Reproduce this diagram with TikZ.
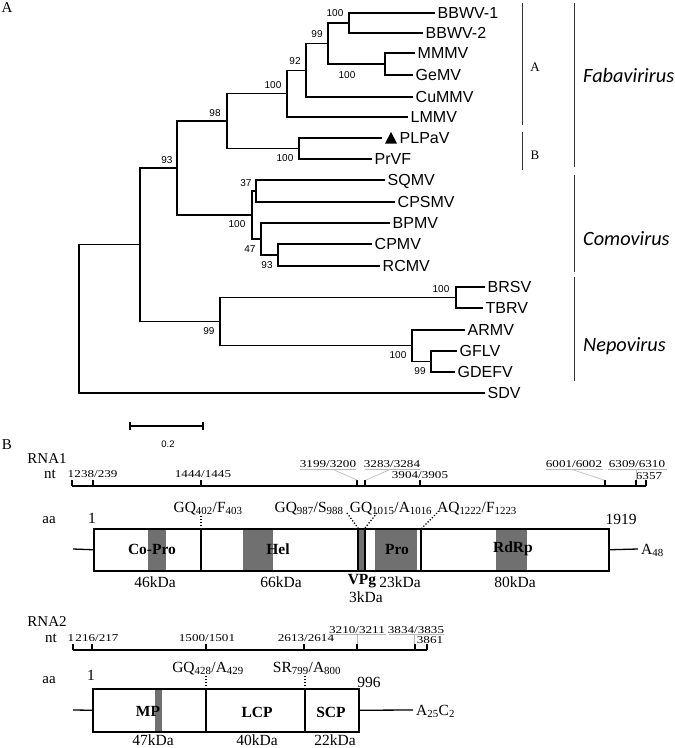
\documentclass[tikz,border=0pt]{standalone}
\usepackage{fontspec}
\setmainfont{Liberation Serif}
\setsansfont{Liberation Sans}
\newfontfamily\calfont{Carlito}
\newfontfamily\ntfont[FakeStretch=1.25]{Liberation Serif}
\definecolor{bandgray}{RGB}{112,112,112}
\definecolor{leadgray}{RGB}{185,185,185}
\tikzset{
  br/.style={line width=1.3pt, line join=miter},
  leaf/.style={font=\sffamily\fontsize{16}{17}\selectfont, anchor=west, inner xsep=2.5pt, inner ysep=0pt, text height=11.5pt, text depth=0pt},
  bs/.style={font=\sffamily\fontsize{10}{10}\selectfont, inner sep=0pt},
  brk/.style={line width=0.9pt, black!80},
  genus/.style={font=\calfont\itshape\fontsize{20.3}{21}\selectfont, anchor=west, inner sep=0pt},
  cladel/.style={font=\fontsize{13}{13}\selectfont, inner sep=0pt},
  panel/.style={font=\fontsize{15}{15}\selectfont, inner sep=0pt},
  tit/.style={font=\fontsize{15}{15}\selectfont, inner sep=0pt},
  ntl/.style={font=\ntfont\fontsize{10.5}{11}\selectfont, inner sep=0pt, anchor=base},
  lab/.style={font=\fontsize{15.5}{16}\selectfont, inner sep=0pt},
  cut/.style={font=\fontsize{15.5}{16}\selectfont, inner sep=0pt, anchor=base},
  dom/.style={font=\bfseries\fontsize{15.5}{16}\selectfont, inner sep=0pt},
  axisl/.style={line width=1.3pt},
  boxl/.style={draw, line width=1.5pt, inner sep=0pt, anchor=north west},
  divl/.style={line width=1.5pt},
  dotline/.style={line width=1.3pt, dash pattern=on 1.2pt off 1.8pt},
  lead/.style={line width=0.6pt, leadgray},
}
\begin{document}
\begin{tikzpicture}[x=1pt,y=-1pt]
\useasboundingbox (0,0) rectangle (675,748);
\fill[white] (0,0) rectangle (675,748);

% ---------------- Panel A ----------------
\node[panel] (pA) at (7,8) {A};

% leaves
\node[leaf] (BBWV1) at (435,13) {BBWV-1};
\node[leaf] (BBWV2) at (423,33) {BBWV-2};
\node[leaf] (MMMV) at (415,53) {MMMV};
\node[leaf] (GeMV) at (413,75) {GeMV};
\node[leaf] (CuMMV) at (413,97) {CuMMV};
\node[leaf] (LMMV) at (408,117) {LMMV};
\coordinate (ePL) at (382,138);
\node[leaf] (PLPaV) at (397,138) {PLPaV};
\node[leaf] (PrVF) at (372,159) {PrVF};
\node[leaf] (SQMV) at (385,180) {SQMV};
\node[leaf] (CPSMV) at (395,202) {CPSMV};
\node[leaf] (BPMV) at (390,223) {BPMV};
\node[leaf] (CPMV) at (372,244) {CPMV};
\node[leaf] (RCMV) at (380,266) {RCMV};
\node[leaf] (BRSV) at (485,287) {BRSV};
\node[leaf] (TBRV) at (483,308) {TBRV};
\node[leaf] (ARMV) at (465,330) {ARMV};
\node[leaf] (GFLV) at (457,351) {GFLV};
\node[leaf] (GDEFV) at (455,372) {GDEFV};
\node[leaf] (SDV) at (485,393) {SDV};
\fill (385,143.5) -- (397,143.5) -- (391,132) -- cycle;

% internal nodes
\coordinate (root) at (79,318.9);
\coordinate (nX) at (140,244.8);
\coordinate (n93) at (177,168);
\coordinate (n98) at (227,121.1);
\coordinate (n100a) at (287,93.6);
\coordinate (n92) at (306,70.25);
\coordinate (n99) at (328,43.5);
\coordinate (nBB) at (349,23);
\coordinate (nMG) at (385,64);
\coordinate (nPL) at (299,148.5);
\coordinate (nCo) at (252,215);
\coordinate (n37) at (256,191);
\coordinate (n47) at (261,239);
\coordinate (n93b) at (278,255);
\coordinate (nNe) at (220,321.6);
\coordinate (nBR) at (456,297.5);
\coordinate (nAR) at (412,345.75);
\coordinate (nGF) at (431,361.5);

% edges
\draw[br] (root) |- (nX);
\draw[br] (root) |- (SDV.west);
\draw[br] (nX) |- (n93);
\draw[br] (nX) |- (nNe);
\draw[br] (n93) |- (n98);
\draw[br] (n93) |- (nCo);
\draw[br] (n98) |- (n100a);
\draw[br] (n98) |- (nPL);
\draw[br] (n100a) |- (n92);
\draw[br] (n100a) |- (LMMV.west);
\draw[br] (n92) |- (n99);
\draw[br] (n92) |- (CuMMV.west);
\draw[br] (n99) |- (nBB);
\draw[br] (n99) |- (nMG);
\draw[br] (nBB) |- (BBWV1.west);
\draw[br] (nBB) |- (BBWV2.west);
\draw[br] (nMG) |- (MMMV.west);
\draw[br] (nMG) |- (GeMV.west);
\draw[br] (nPL) |- (ePL);
\draw[br] (nPL) |- (PrVF.west);
\draw[br] (nCo) |- (n37);
\draw[br] (nCo) |- (n47);
\draw[br] (n37) |- (SQMV.west);
\draw[br] (n37) |- (CPSMV.west);
\draw[br] (n47) |- (BPMV.west);
\draw[br] (n47) |- (n93b);
\draw[br] (n93b) |- (CPMV.west);
\draw[br] (n93b) |- (RCMV.west);
\draw[br] (nNe) |- (nBR);
\draw[br] (nNe) |- (nAR);
\draw[br] (nBR) |- (BRSV.west);
\draw[br] (nBR) |- (TBRV.west);
\draw[br] (nAR) |- (ARMV.west);
\draw[br] (nAR) |- (nGF);
\draw[br] (nGF) |- (GFLV.west);
\draw[br] (nGF) |- (GDEFV.west);

% bootstrap values
\node[bs] (b1) at (335,13) {100};
\node[bs] (b2) at (317,34) {99};
\node[bs] (b3) at (295,61) {92};
\node[bs] (b4) at (273,85) {100};
\node[bs] (b5) at (215,113) {98};
\node[bs] (b6) at (167,160) {93};
\node[bs] (b7) at (347,75) {100};
\node[bs] (b8) at (285,158) {100};
\node[bs] (b9) at (237,224) {100};
\node[bs] (b10) at (246,183) {37};
\node[bs] (b11) at (250,249) {47};
\node[bs] (b12) at (267,265) {93};
\node[bs] (b13) at (209,331) {99};
\node[bs] (b14) at (441,289) {100};
\node[bs] (b15) at (398,355) {100};
\node[bs] (b16) at (420,371) {99};

% brackets
\coordinate (bAt) at (522,3);   \coordinate (bAb) at (522,125);
\coordinate (bBt) at (522,132); \coordinate (bBb) at (522,170);
\coordinate (gFt) at (574,3);   \coordinate (gFb) at (574,167);
\coordinate (gCt) at (574,175); \coordinate (gCb) at (574,272);
\coordinate (gNt) at (574,277); \coordinate (gNb) at (574,381);
\draw[brk] (bAt) -- (bAb);
\draw[brk] (bBt) -- (bBb);
\draw[brk] (gFt) -- (gFb);
\draw[brk] (gCt) -- (gCb);
\draw[brk] (gNt) -- (gNb);
\node[cladel] (cA) at (535,67) {A};
\node[cladel] (cB) at (535,155) {B};
\node[genus] (fab) at (583,76) {Fabavirirus};
\node[genus] (como) at (583,239) {Comovirus};
\node[genus] (nepo) at (583,346) {Nepovirus};

% scale bar
\coordinate (s0) at (130,426); \coordinate (s1) at (203,426);
\draw[br] (s0) -- (s1);
\draw[br] (130,422) -- (130,430);
\draw[br] (203,422) -- (203,430);
\node[bs, font=\sffamily\fontsize{9.5}{10}\selectfont] (sc) at (168,444) {0.2};

% ---------------- Panel B ----------------
\node[panel] (pB) at (7,445) {B};

% RNA1 nt axis
\node[tit] (rna1) at (47,459) {RNA1};
\node[tit] (nt1) at (50,474) {nt};
\coordinate (a1s) at (72,486); \coordinate (a1e) at (646,486);
\draw[axisl] (a1s) -- (a1e);
\foreach \xx in {72,93,201,357,365,420,605,636,646} \draw[axisl] (\xx,486) -- (\xx,480);
\node[ntl] (l1a) at (71,477) {1};
\node[ntl] (l1b) at (96,477) {238/239};
\node[ntl] (l1c) at (203,477.5) {1444/1445};
\node[ntl] (l1d) at (328,467.5) {3199/3200};
\node[ntl] (l1e) at (392,467.5) {3283/3284};
\node[ntl] (l1f) at (420,478) {3904/3905};
\node[ntl] (l1g) at (574,467.5) {6001/6002};
\node[ntl] (l1h) at (637,467.5) {6309/6310};
\node[ntl] (l1i) at (649,479.5) {6357};
\draw[lead] (300,469.5) -- (356,469.5);
\draw[lead] (333,469.5) -- (357,480);
\draw[lead] (365,469.5) -- (420,469.5);
\draw[lead] (390,469.5) -- (366,480);
\draw[lead] (546,469.5) -- (603,469.5);
\draw[lead] (572,469.5) -- (604,480);
\draw[lead] (608,469.5) -- (667,469.5);
\draw[lead] (636,469.5) -- (636,480);

% RNA1 polyprotein
\node[tit] (aa1) at (49,520) {aa};
\node[lab] (one1) at (92,518) {1};
\node[lab] (end1) at (621,519) {1919};
\fill[bandgray] (148,528) rectangle (166,570);
\fill[bandgray] (243,528) rectangle (273,570);
\fill[bandgray] (358,528) rectangle (365,570);
\fill[bandgray] (375,528) rectangle (417,570);
\fill[bandgray] (496,528) rectangle (527,570);
\node[boxl, minimum width=515pt, minimum height=42pt] (box1) at (93,528) {};
\draw[divl] (201,528) -- (201,570);
\draw[divl] (358,528) -- (358,570);
\draw[divl] (365,528) -- (365,570);
\draw[divl] (421,528) -- (421,570);
\coordinate (t1a) at (73,549); \coordinate (t1b) at (638,549);
\draw[axisl] (t1a) -- (box1.west);
\draw[axisl] (box1.east) -- (t1b);
\node[cut, anchor=base west] (pa1) at (641,554) {A\textsubscript{48}};
\node[dom] (copro) at (152,549) {Co-Pro};
\node[dom] (hel) at (278,549) {Hel};
\node[dom] (pro) at (397,549) {Pro};
\node[dom] (rdrp) at (513,549) {RdRp};
\node[lab] (k46) at (155,582) {46kDa};
\node[lab] (k66) at (281,582) {66kDa};
\node[dom] (vpg) at (362,581) {VPg};
\node[lab] (k23) at (400,582) {23kDa};
\node[lab] (k80) at (515,582) {80kDa};
\node[lab] (k3) at (366,597) {3kDa};
\node[cut] (c1) at (208,512) {GQ\textsubscript{402}/F\textsubscript{403}};
\node[cut] (c2) at (309,512) {GQ\textsubscript{987}/S\textsubscript{988}};
\node[cut] (c3) at (391,512) {GQ\textsubscript{1015}/A\textsubscript{1016}};
\node[cut] (c4) at (477,512) {AQ\textsubscript{1222}/F\textsubscript{1223}};
\draw[dotline] (201,516) -- (201,528);
\draw[dotline] (347,513) -- (358,528);
\draw[dotline] (377,513) -- (365,528);
\draw[dotline] (437,513) -- (422,528);

% RNA2 nt axis
\node[tit] (rna2) at (47,622) {RNA2};
\node[tit] (nt2) at (51,638) {nt};
\coordinate (a2s) at (73,650); \coordinate (a2e) at (427,650);
\draw[axisl] (a2s) -- (a2e);
\foreach \xx in {73,92,206,304,357,415,427} \draw[axisl] (\xx,650) -- (\xx,644);
\node[ntl] (l2a) at (71,641.5) {1};
\node[ntl] (l2b) at (97,641.5) {216/217};
\node[ntl] (l2c) at (207,641.5) {1500/1501};
\node[ntl] (l2d) at (306,641.5) {2613/2614};
\node[ntl] (l2e) at (357,633) {3210/3211};
\node[ntl] (l2f) at (416,633) {3834/3835};
\node[ntl] (l2g) at (430,643.5) {3861};
\draw[lead] (329,634.5) -- (386,634.5);
\draw[lead] (357,634.5) -- (357,644);
\draw[lead] (389,634.5) -- (444,634.5);
\draw[lead] (414,634.5) -- (414,644);

% RNA2 polyprotein
\node[tit] (aa2) at (49,680) {aa};
\node[lab] (one2) at (91,675) {1};
\node[lab] (end2) at (369,682) {996};
\fill[bandgray] (155,688) rectangle (162,731);
\node[boxl, minimum width=266pt, minimum height=43pt] (box2) at (92,688) {};
\draw[divl] (206,688) -- (206,731);
\draw[divl, line width=1.9pt] (305,688) -- (305,731);
\coordinate (t2a) at (73,710); \coordinate (t2b) at (413,710);
\draw[axisl] (t2a) -- (box2.west);
\draw[axisl] (box2.east) -- (t2b);
\node[cut, anchor=base west] (pa2) at (416,715) {A\textsubscript{25}C\textsubscript{2}};
\node[dom] (mp) at (148,711) {MP};
\node[dom] (lcp) at (257,712) {LCP};
\node[dom] (scp) at (331,712) {SCP};
\node[lab] (k47) at (153,740.5) {47kDa};
\node[lab] (k40) at (257,740.5) {40kDa};
\node[lab] (k22) at (335,740.5) {22kDa};
\node[cut] (c5) at (208,672) {GQ\textsubscript{428}/A\textsubscript{429}};
\node[cut] (c6) at (307,672) {SR\textsubscript{799}/A\textsubscript{800}};
\draw[dotline] (206,676) -- (206,688);
\draw[dotline] (305,676) -- (305,688);
\end{tikzpicture}
\end{document}
